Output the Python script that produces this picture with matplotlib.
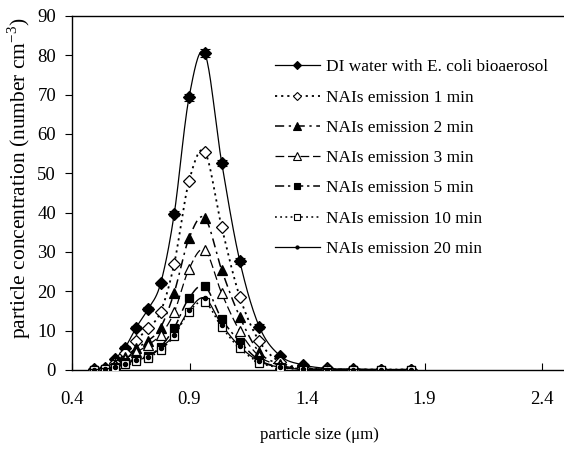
import numpy as np
import matplotlib
matplotlib.use("Agg")
import matplotlib.pyplot as plt
from matplotlib.lines import Line2D

plt.rcParams['font.family'] = ['Liberation Serif', 'DejaVu Serif']
plt.rcParams['mathtext.fontset'] = 'custom'
plt.rcParams['mathtext.rm'] = 'Liberation Serif'

particle_size = [0.492, 0.542, 0.583, 0.626, 0.673, 0.723, 0.777, 0.835, 0.898, 0.965,
                 1.037, 1.114, 1.197, 1.286, 1.382, 1.486, 1.596, 1.715, 1.843]

di_water = [0.2, 0.4, 2.8, 5.7, 10.8, 15.4, 22.0, 39.7, 69.3, 80.5,
            52.7, 27.7, 11.0, 3.6, 1.3, 0.4, 0.2, 0.1, 0.1]
di_water_err = [0, 0, 0.3, 0.3, 0.4, 0.5, 0.5, 0.6, 0.9, 1.0,
                0.8, 0.8, 0.6, 0.3, 0.2, 0.1, 0, 0, 0]
nai_1 = [0.1, 0.3, 1.8, 4.2, 7.5, 10.6, 14.8, 27.0, 48.0, 55.5,
         36.3, 18.6, 7.3, 2.0, 0.6, 0.2, 0.1, 0.1, 0.1]
nai_2 = [0.1, 0.2, 1.5, 3.4, 5.5, 7.4, 10.8, 19.7, 33.5, 38.7,
         25.4, 13.5, 4.5, 1.5, 0.5, 0.2, 0.1, 0.1, 0.1]
nai_3 = [0.1, 0.2, 1.2, 2.8, 4.5, 6.3, 9.0, 14.7, 25.7, 30.5,
         19.5, 9.9, 3.5, 1.2, 0.4, 0.1, 0.1, 0.1, 0.1]
nai_5 = [0.1, 0.2, 0.8, 2.0, 2.8, 3.6, 5.9, 10.7, 18.3, 21.3,
         13.0, 7.2, 2.5, 0.8, 0.3, 0.1, 0.1, 0.1, 0.1]
nai_10 = [0.1, 0.2, 0.6, 1.5, 2.2, 3.0, 5.2, 8.6, 14.8, 17.3,
          10.9, 5.5, 1.9, 0.6, 0.2, 0.1, 0.1, 0.1, 0.1]
nai_20 = [0.1, 0.2, 0.7, 1.6, 2.5, 3.3, 5.6, 9.0, 15.2, 18.3,
          11.5, 6.0, 2.2, 0.7, 0.2, 0.1, 0.1, 0.1, 0.1]

labels = ['DI water with E. coli bioaerosol', 'NAIs emission 1 min',
          'NAIs emission 2 min', 'NAIs emission 3 min', 'NAIs emission 5 min',
          'NAIs emission 10 min', 'NAIs emission 20 min']

x_ticks = [0.4, 0.9, 1.4, 1.9, 2.4]
y_ticks = [0, 10, 20, 30, 40, 50, 60, 70, 80, 90]


def smooth(x, y, n=20):
    """Catmull-Rom parametric smoothing (like Excel smoothed lines)."""
    x = np.asarray(x, float); y = np.asarray(y, float)
    P = np.column_stack([x, y])
    P = np.vstack([P[0], P, P[-1]])
    out = []
    t = np.linspace(0, 1, n, endpoint=False)
    for i in range(1, len(P) - 2):
        p0, p1, p2, p3 = P[i - 1], P[i], P[i + 1], P[i + 2]
        c1 = p1 + (p2 - p0) / 6.0
        c2 = p2 - (p3 - p1) / 6.0
        tt = t[:, None]
        seg = ((1 - tt) ** 3) * p1 + 3 * ((1 - tt) ** 2) * tt * c1 + 3 * (1 - tt) * tt ** 2 * c2 + tt ** 3 * p2
        out.append(seg)
    out.append(P[-2][None, :])
    out = np.vstack(out)
    return out[:, 0], out[:, 1]


fig = plt.figure(figsize=(5.64, 4.5), dpi=100)
ax = fig.add_axes([72 / 564, 1 - 370 / 450, (565.5 - 72) / 564, (370 - 16) / 450])

series = [di_water, nai_1, nai_2, nai_3, nai_5, nai_10, nai_20]
styles = [
    dict(ls='-', marker='D', mfc='black', ms=5.8, lw=0.9),
    dict(ls=(0, (1.2, 2.2)), marker='D', mfc='white', ms=5.8, lw=1.3),
    dict(ls=(0, (6, 3, 1.5, 3)), marker='^', mfc='black', ms=6.8, lw=1.1),
    dict(ls=(0, (7, 3)), marker='^', mfc='white', ms=6.8, lw=0.9),
    dict(ls=(0, (6, 2.5, 1.5, 2.5)), marker='s', mfc='black', ms=5.6, lw=1.1),
    dict(ls=(0, (1.2, 2.2)), marker='s', mfc='white', ms=5.6, lw=1.1),
    dict(ls='-', marker='o', mfc='black', ms=3.0, lw=0.9),
]

handles = []
for ys, st, lab in zip(series, styles, labels):
    sx, sy = smooth(particle_size, ys)
    ax.plot(sx, sy, color='black', ls=st['ls'], lw=st['lw'], zorder=2)
    ax.plot(particle_size, ys, ls='none', marker=st['marker'], mfc=st['mfc'],
            mec='black', mew=0.9, ms=st['ms'], zorder=3)
    handles.append(Line2D([], [], color='black', ls=st['ls'], lw=st['lw'],
                          marker=st['marker'], mfc=st['mfc'], mec='black',
                          mew=0.8, ms=st['ms'] * 0.75, label=lab))

ax.errorbar(particle_size, di_water, yerr=di_water_err, fmt='none',
            ecolor='black', elinewidth=0.8, capsize=3.5, capthick=0.8, zorder=4)

ax.set_xlim(0.4, 2.5)
ax.set_ylim(0, 90)
ax.set_xticks(x_ticks)
ax.set_xticklabels([f'{v:.1f}' for v in x_ticks])
ax.set_yticks(y_ticks)
ax.tick_params(axis='x', direction='in', length=5, width=0.8, labelsize=13.5, pad=15)
ax.tick_params(axis='y', direction='out', length=5, width=0.8, labelsize=13.5, pad=6.5)
for s in ['left', 'top', 'bottom']:
    ax.spines[s].set_linewidth(1.0)
ax.spines['right'].set_visible(False)

ax.set_xlabel('particle size (\u03bcm)', fontsize=12.2)
ax.xaxis.set_label_coords(0.5005, -0.161)
ax.set_ylabel('particle concentration (number cm$^{-3}$)', fontsize=15.5)
ax.yaxis.set_label_coords(-0.079, 0.542)

leg = ax.legend(handles=handles, loc='upper left', bbox_to_anchor=(0.411, 0.8775),
                frameon=False, fontsize=12.4, handlelength=2.6, handletextpad=0.35,
                labelspacing=0.824, numpoints=1, borderaxespad=0, borderpad=0)

fig.savefig('out.png', dpi=100)
